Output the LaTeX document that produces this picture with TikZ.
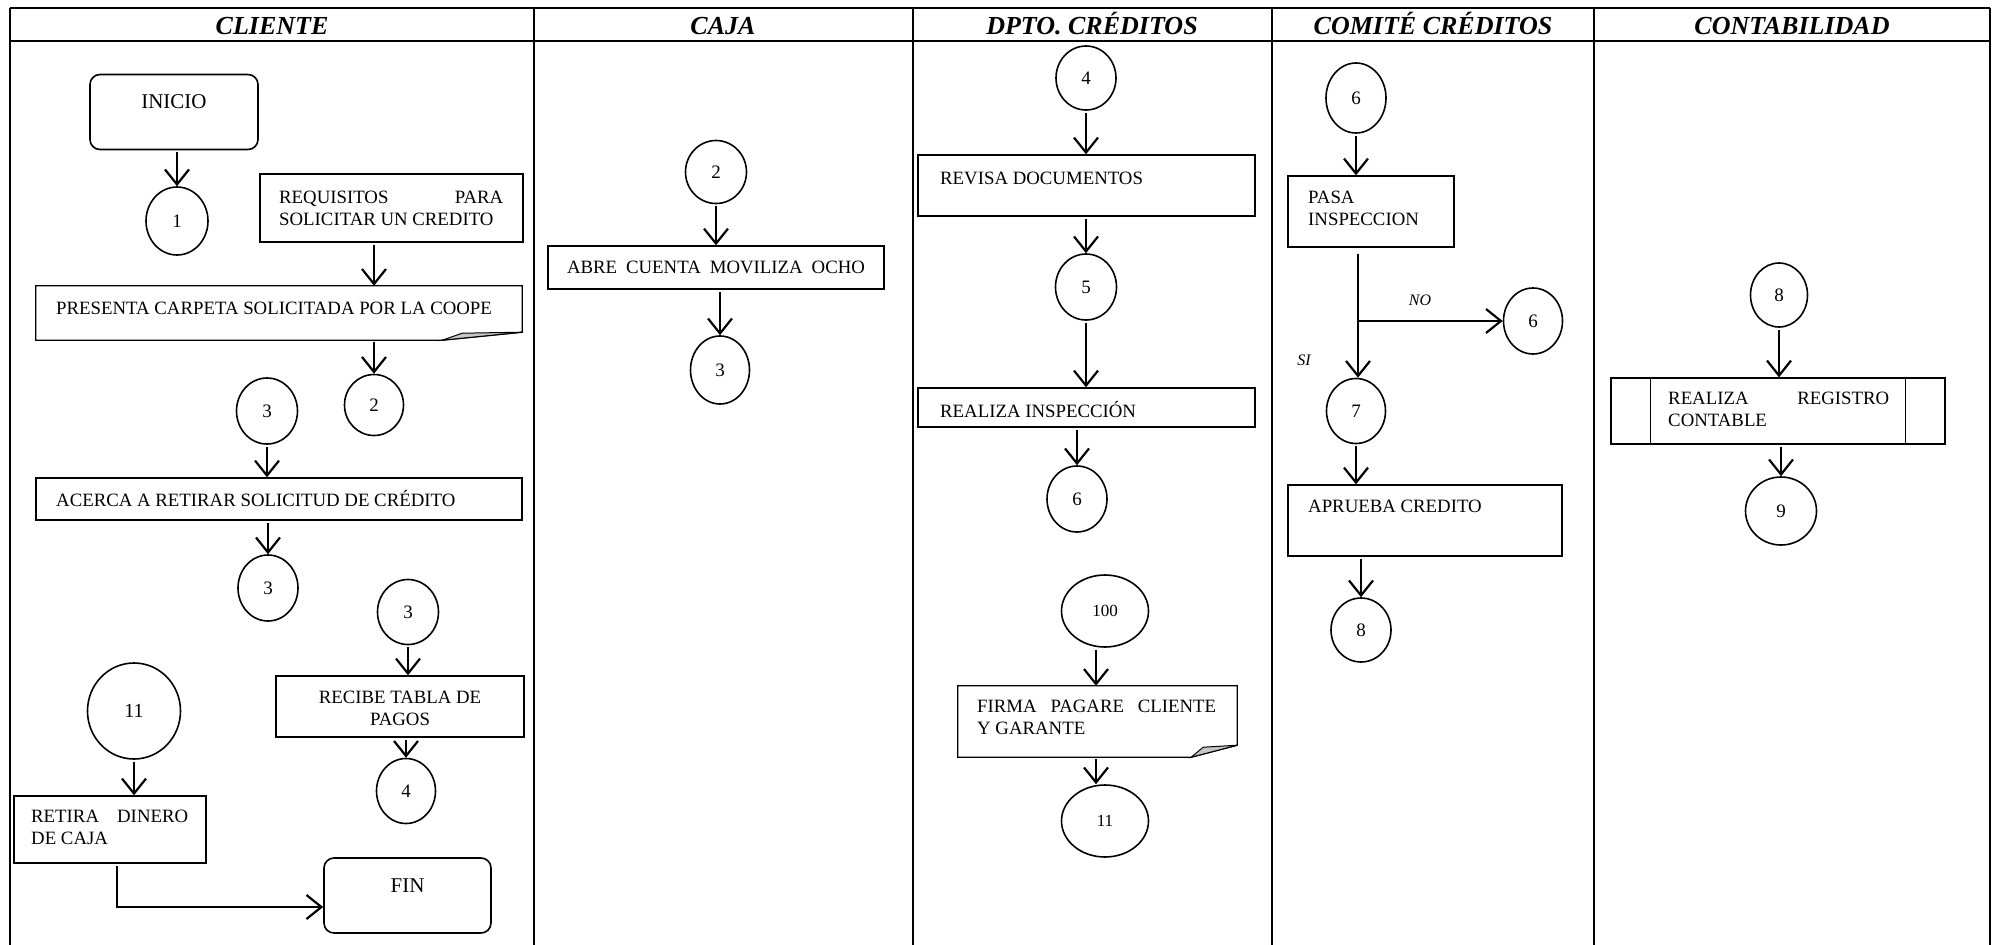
\documentclass[tikz,border=0pt]{standalone}
\usepackage{fontspec}
\setmainfont{Liberation Serif}
\usetikzlibrary{arrows.meta,calc,shapes.geometric}
\newcommand{\jl}[2]{\makebox[#1][s]{#2}}
\begin{document}
\begin{tikzpicture}[x=1pt,y=-1pt,
  lane/.style={line width=2.2pt},
  box/.style={draw, line width=1.3pt, rectangle, inner sep=0pt},
  term/.style={draw, line width=1.6pt, rounded corners=10pt, rectangle, inner sep=0pt},
  circ/.style={draw, ellipse, line width=1.6pt, inner sep=0pt, font=\fontsize{19}{20}\selectfont},
  lbl/.style={inner sep=0pt, font=\fontsize{18.8}{22}\selectfont},
  flow/.style={line width=2pt, shorten <=2pt, -{Straight Barb[length=15pt, width=24pt, line width=2.2pt]}},
  head/.style={inner sep=0pt, anchor=base, font=\fontsize{26}{28}\selectfont\bfseries\itshape},
  yn/.style={inner sep=0pt, font=\fontsize{16}{18}\selectfont\itshape},
  fold/.style={fill=gray!45, draw, line width=1pt}
]
\useasboundingbox (0,0) rectangle (1995,945);
% ---------- table ----------
\draw[lane] (10,8) -- (1990,8);
\draw[lane] (10,41) -- (1990,41);
\foreach \xx in {10,534,913,1272,1594,1990} \draw[lane] (\xx,8) -- (\xx,945);
\node[head] (hcli) at (272,34) {CLIENTE};
\node[head] (hcaj) at (723,34) {CAJA};
\node[head] (hdpt) at (1092,34) {DPTO. CRÉDITOS};
\node[head] (hcom) at (1433,34) {COMITÉ CRÉDITOS};
\node[head] (hcon) at (1792,34) {CONTABILIDAD};

% ---------- CLIENTE ----------
\node[term, minimum width=168pt, minimum height=75pt] (inicio) at (174,112) {};
\node[lbl, font=\fontsize{21}{24}\selectfont] (tinicio) at (174,102) {INICIO};
\node[circ, minimum width=62pt, minimum height=68pt] (c1) at (177,221) {1};
\node[box, minimum width=263pt, minimum height=68pt] (req) at (391.5,208) {};
\node[lbl, anchor=north west, align=left] (treq) at (279,191) {\jl{224pt}{REQUISITOS PARA}\\SOLICITAR UN CREDITO};
\node[minimum width=486pt, minimum height=54pt, inner sep=0pt] (pres) at (279,313) {};
\draw[line width=1.3pt] (pres.north west) -- (pres.north east) -- ($(pres.south east)+(0,-8)$) -- ($(pres.south east)+(-80,0)$) -- (pres.south west) -- cycle;
\draw[fold] ($(pres.south east)+(-80,0)$) -- ($(pres.south east)+(-60,-7)$) -- ($(pres.south east)+(0,-8)$) -- cycle;
\node[lbl, anchor=west] (tpres) at (56,308) {PRESENTA CARPETA SOLICITADA POR LA COOPE};
\node[circ, minimum width=59pt, minimum height=61pt] (c2) at (374,405) {2};
\node[circ, minimum width=61pt, minimum height=66pt] (c3a) at (267,411) {3};
\node[box, minimum width=486pt, minimum height=42pt] (acerca) at (279,499) {};
\node[lbl, anchor=west] (tacerca) at (56,499) {ACERCA A RETIRAR SOLICITUD DE CRÉDITO};
\node[circ, minimum width=60pt, minimum height=66pt] (c3b) at (268,588) {3};
\node[circ, minimum width=61pt, minimum height=65pt] (c3c) at (408,612) {3};
\node[box, minimum width=248pt, minimum height=61pt] (recibe) at (400,706.5) {};
\node[lbl, align=center] (trecibe) at (400,708) {RECIBE TABLA DE\\PAGOS};
\node[circ, minimum width=59pt, minimum height=65pt] (c4) at (406,791) {4};
\node[circ, minimum width=93pt, minimum height=96pt, font=\fontsize{20}{22}\selectfont] (c11) at (134,711) {11};
\node[box, minimum width=192pt, minimum height=67pt] (retira) at (110,829.5) {};
\node[lbl, anchor=north west, align=left] (tretira) at (31,810) {\jl{157pt}{RETIRA DINERO}\\DE CAJA};
\node[term, minimum width=167pt, minimum height=75pt] (fin) at (407.5,895.5) {};
\node[lbl, font=\fontsize{21}{24}\selectfont] (tfin) at (407.5,886) {FIN};
\coordinate (rf) at (117,907);

\draw[flow] (c1.north |- inicio.south) -- (c1.north);
\draw[flow] (req.south -| c2) -- (pres.north -| c2);
\draw[flow] (pres.south -| c2) -- (c2.north);
\draw[flow] (c3a.south) -- (acerca.north -| c3a);
\draw[flow] (acerca.south -| c3b) -- (c3b.north);
\draw[flow] (c3c.south) -- (recibe.north -| c3c);
\draw[flow] (recibe.south -| c4) -- (c4.north);
\draw[flow] (c11.south) -- (retira.north -| c11);
\draw[flow] (retira.south -| rf) -- (rf) -- (fin.west |- rf);

% ---------- CAJA ----------
\node[circ, minimum width=61pt, minimum height=63pt] (c2k) at (716,172) {2};
\node[box, minimum width=336pt, minimum height=43pt] (abre) at (716,267.5) {};
\node[lbl] (tabre) at (716,267) {\jl{298pt}{ABRE CUENTA MOVILIZA OCHO}};
\node[circ, minimum width=59pt, minimum height=68pt] (c3k) at (720,370) {3};
\draw[flow] (c2k.south) -- (abre.north -| c2k);
\draw[flow] (abre.south -| c3k) -- (c3k.north);

% ---------- DPTO. CREDITOS ----------
\node[circ, minimum width=60pt, minimum height=64pt] (c4d) at (1086,78) {4};
\node[box, minimum width=337pt, minimum height=61pt] (revisa) at (1086.5,185.5) {};
\node[lbl, anchor=west] (trevisa) at (940,178) {REVISA DOCUMENTOS};
\node[circ, minimum width=61pt, minimum height=66pt] (c5) at (1086,287) {5};
\node[box, minimum width=337pt, minimum height=39pt] (realiza) at (1086.5,407.5) {};
\node[lbl, anchor=west] (trealiza) at (940,410) {REALIZA INSPECCIÓN};
\node[circ, minimum width=60pt, minimum height=66pt] (c6d) at (1077,499) {6};
\node[circ, minimum width=87pt, minimum height=72pt, font=\fontsize{17}{19}\selectfont] (c100) at (1105,611) {100};
\node[minimum width=279pt, minimum height=71pt, inner sep=0pt] (firma) at (1097.5,721.5) {};
\draw[line width=1.3pt] (firma.north west) -- (firma.north east) -- ($(firma.south east)+(0,-12)$) -- ($(firma.south east)+(-46,0)$) -- (firma.south west) -- cycle;
\draw[fold] ($(firma.south east)+(-46,0)$) -- ($(firma.south east)+(-34,-10)$) -- ($(firma.south east)+(0,-12)$) -- cycle;
\node[lbl, anchor=north west, align=left] (tfirma) at (977,700) {\jl{239pt}{FIRMA PAGARE CLIENTE}\\Y GARANTE};
\node[circ, minimum width=87pt, minimum height=72pt, font=\fontsize{17}{19}\selectfont] (c11d) at (1105,821) {11};
\draw[flow] (c4d.south) -- (revisa.north -| c4d);
\draw[flow] (revisa.south -| c5) -- (c5.north);
\draw[flow] (c5.south) -- (realiza.north -| c5);
\draw[flow] (realiza.south -| c6d) -- (c6d.north);
\draw[flow] (c100.south -| 1096,0) -- (firma.north -| 1096,0);
\draw[flow] (firma.south -| 1096,0) -- (c11d.north -| 1096,0);

% ---------- COMITE CREDITOS ----------
\node[circ, minimum width=60pt, minimum height=70pt] (c6c) at (1356,98) {6};
\node[box, minimum width=166pt, minimum height=71pt] (pasa) at (1371,211.5) {};
\node[lbl, anchor=north west, align=left] (tpasa) at (1308,191) {PASA\\INSPECCION};
\node[circ, minimum width=59pt, minimum height=66pt] (c6b) at (1533,321) {6};
\node[circ, minimum width=59pt, minimum height=65pt] (c7) at (1356,411) {7};
\coordinate (br) at (1358,321);
\node[yn] (tno) at (1420,300) {NO};
\node[yn] (tsi) at (1304,360) {SI};
\node[box, minimum width=274pt, minimum height=71pt] (aprueba) at (1425,520.5) {};
\node[lbl, anchor=west] (taprueba) at (1308,506) {APRUEBA CREDITO};
\node[circ, minimum width=60pt, minimum height=64pt] (c8c) at (1361,630) {8};
\draw[flow] (c6c.south) -- (pasa.north -| c6c);
\draw[flow, shorten <=6pt] (pasa.south -| br) -- (c7.north -| br);
\draw[flow, shorten <=0pt] (br) -- (c6b.west);
\draw[flow] (c7.south) -- (aprueba.north -| c7);
\draw[flow] (aprueba.south -| c8c) -- (c8c.north);

% ---------- CONTABILIDAD ----------
\node[circ, minimum width=57pt, minimum height=64pt] (c8k) at (1779,295) {8};
\node[box, minimum width=334pt, minimum height=66pt] (regist) at (1778,411) {};
\draw[line width=1.3pt] ($(regist.north west)+(40,0)$) -- ($(regist.south west)+(40,0)$);
\draw[line width=1.3pt] ($(regist.north east)+(-40,0)$) -- ($(regist.south east)+(-40,0)$);
\node[lbl, anchor=north west, align=left] (tregist) at (1668,392) {\jl{221pt}{REALIZA REGISTRO}\\CONTABLE};
\node[circ, minimum width=71pt, minimum height=68pt] (c9) at (1781,511) {9};
\draw[flow] (c8k.south) -- (regist.north -| c8k);
\draw[flow] (regist.south -| c9) -- (c9.north);
\end{tikzpicture}
\end{document}
